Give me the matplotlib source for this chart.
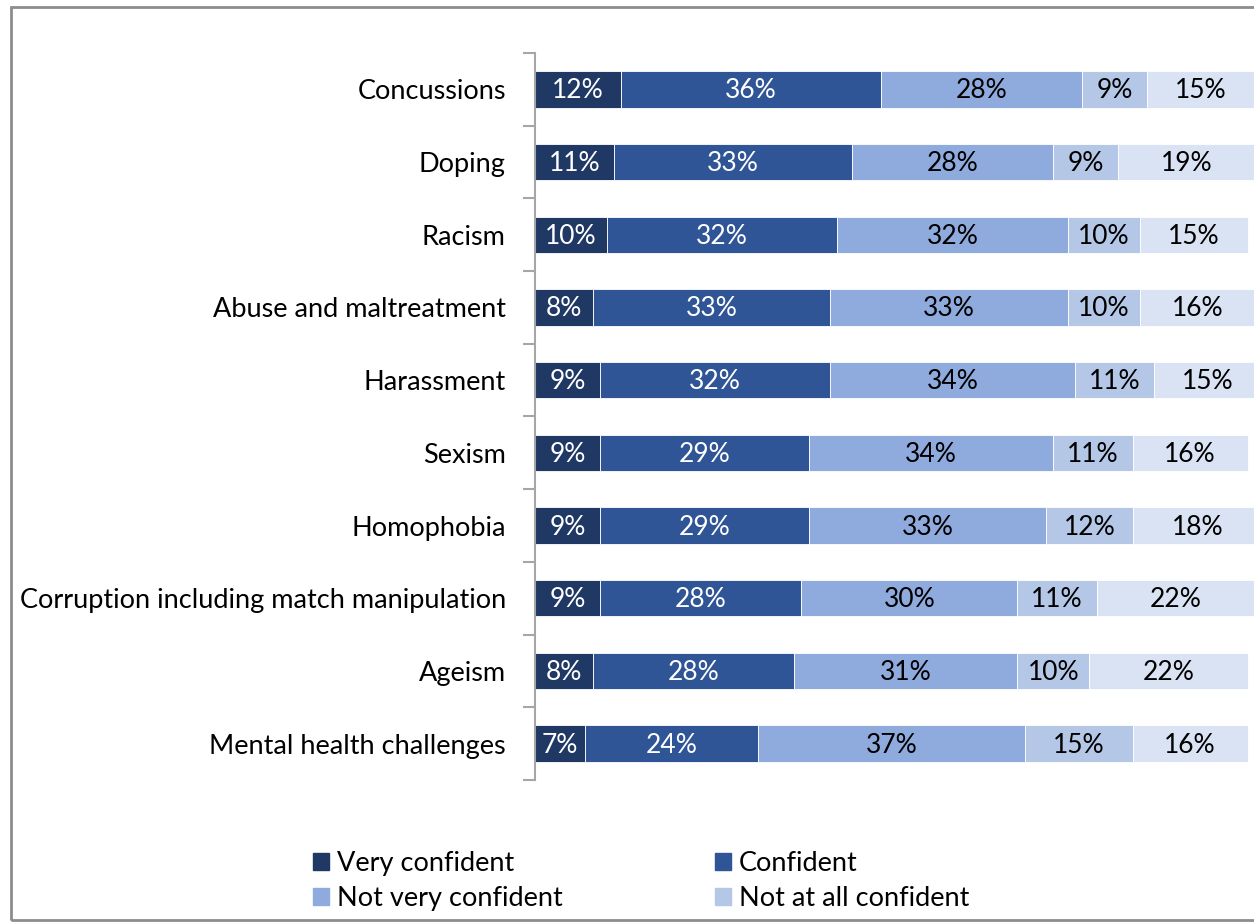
import matplotlib.pyplot as plt
from matplotlib.patches import Rectangle, Patch
import numpy as np

plt.rcParams['font.family'] = ['Lato', 'DejaVu Sans']

# Topics, top to bottom
topics = [
    "Concussions",
    "Doping",
    "Racism",
    "Abuse and maltreatment",
    "Harassment",
    "Sexism",
    "Homophobia",
    "Corruption including match manipulation",
    "Ageism",
    "Mental health challenges",
]

very_confident = [12, 11, 10, 8, 9, 9, 9, 9, 8, 7]
confident = [36, 33, 32, 33, 32, 29, 29, 28, 28, 24]
not_very_confident = [28, 28, 32, 33, 34, 34, 33, 30, 31, 37]
not_at_all_confident = [9, 9, 10, 10, 11, 11, 12, 11, 10, 15]
dont_know = [15, 19, 15, 16, 15, 16, 18, 22, 22, 16]

series = [
    ("Very confident", very_confident, "#203864", "white"),
    ("Confident", confident, "#2F5597", "white"),
    ("Not very confident", not_very_confident, "#8FAADC", "black"),
    ("Not at all confident", not_at_all_confident, "#B4C7E7", "black"),
    ("Don't know", dont_know, "#DAE3F3", "black"),
]
colors = {name: c for name, v, c, t in series}
# legend fills column by column, so list it so rows read across
legend_names = ["Very confident", "Not very confident", "Confident", "Not at all confident"]

LABEL_SIZE = 19.5
VALUE_SIZE = 19

fig = plt.figure(figsize=(12.54, 9.24), dpi=100)
W, H = 1254, 924
ax = fig.add_axes([535 / W, 1 - 780 / H, (1255 - 535) / W, (780 - 53) / H])

y = np.arange(len(topics))
left = np.zeros(len(topics))
for name, vals, color, tcolor in series:
    vals = np.array(vals, dtype=float)
    ax.barh(y, vals, left=left, height=0.5, color=color, edgecolor="white", linewidth=0.6)
    for yi, (l, v) in enumerate(zip(left, vals)):
        ax.text(l + v / 2, yi + 0.02, f"{int(v)}%", ha="center", va="center",
                fontsize=VALUE_SIZE, color=tcolor)
    left += vals

ax.set_xlim(0, 100)
ax.set_ylim(len(topics) - 0.5, -0.5)
ax.set_yticks(y)
ax.set_yticklabels(topics, fontsize=LABEL_SIZE)
ax.set_yticks(np.arange(-0.5, len(topics)), minor=True)
ax.tick_params(axis="y", which="major", length=0, pad=21)
ax.tick_params(axis="y", which="minor", length=9, color="#A6A6A6", width=1.5, direction="out")
ax.set_xticks([])
for s in ["top", "right", "bottom"]:
    ax.spines[s].set_visible(False)
ax.spines["left"].set_color("#A6A6A6")
ax.spines["left"].set_linewidth(1.5)

handles = [Patch(facecolor=colors[n], edgecolor=colors[n]) for n in legend_names]
fig.legend(handles, legend_names, ncol=2, loc="center left",
           bbox_to_anchor=(313 / W, 1 - 881 / H), frameon=False, fontsize=LABEL_SIZE,
           borderpad=0, borderaxespad=0,
           handlelength=0.6, handleheight=0.6, handletextpad=0.3,
           columnspacing=5.6, labelspacing=0.38)

# outer chart frame
fig.patches.append(Rectangle((11 / W, 1 - 920 / H), 1.2, (920 - 7) / H,
                             transform=fig.transFigure, fill=False,
                             edgecolor="#8C8C8C", linewidth=2))

fig.savefig("out.png", dpi=100)
